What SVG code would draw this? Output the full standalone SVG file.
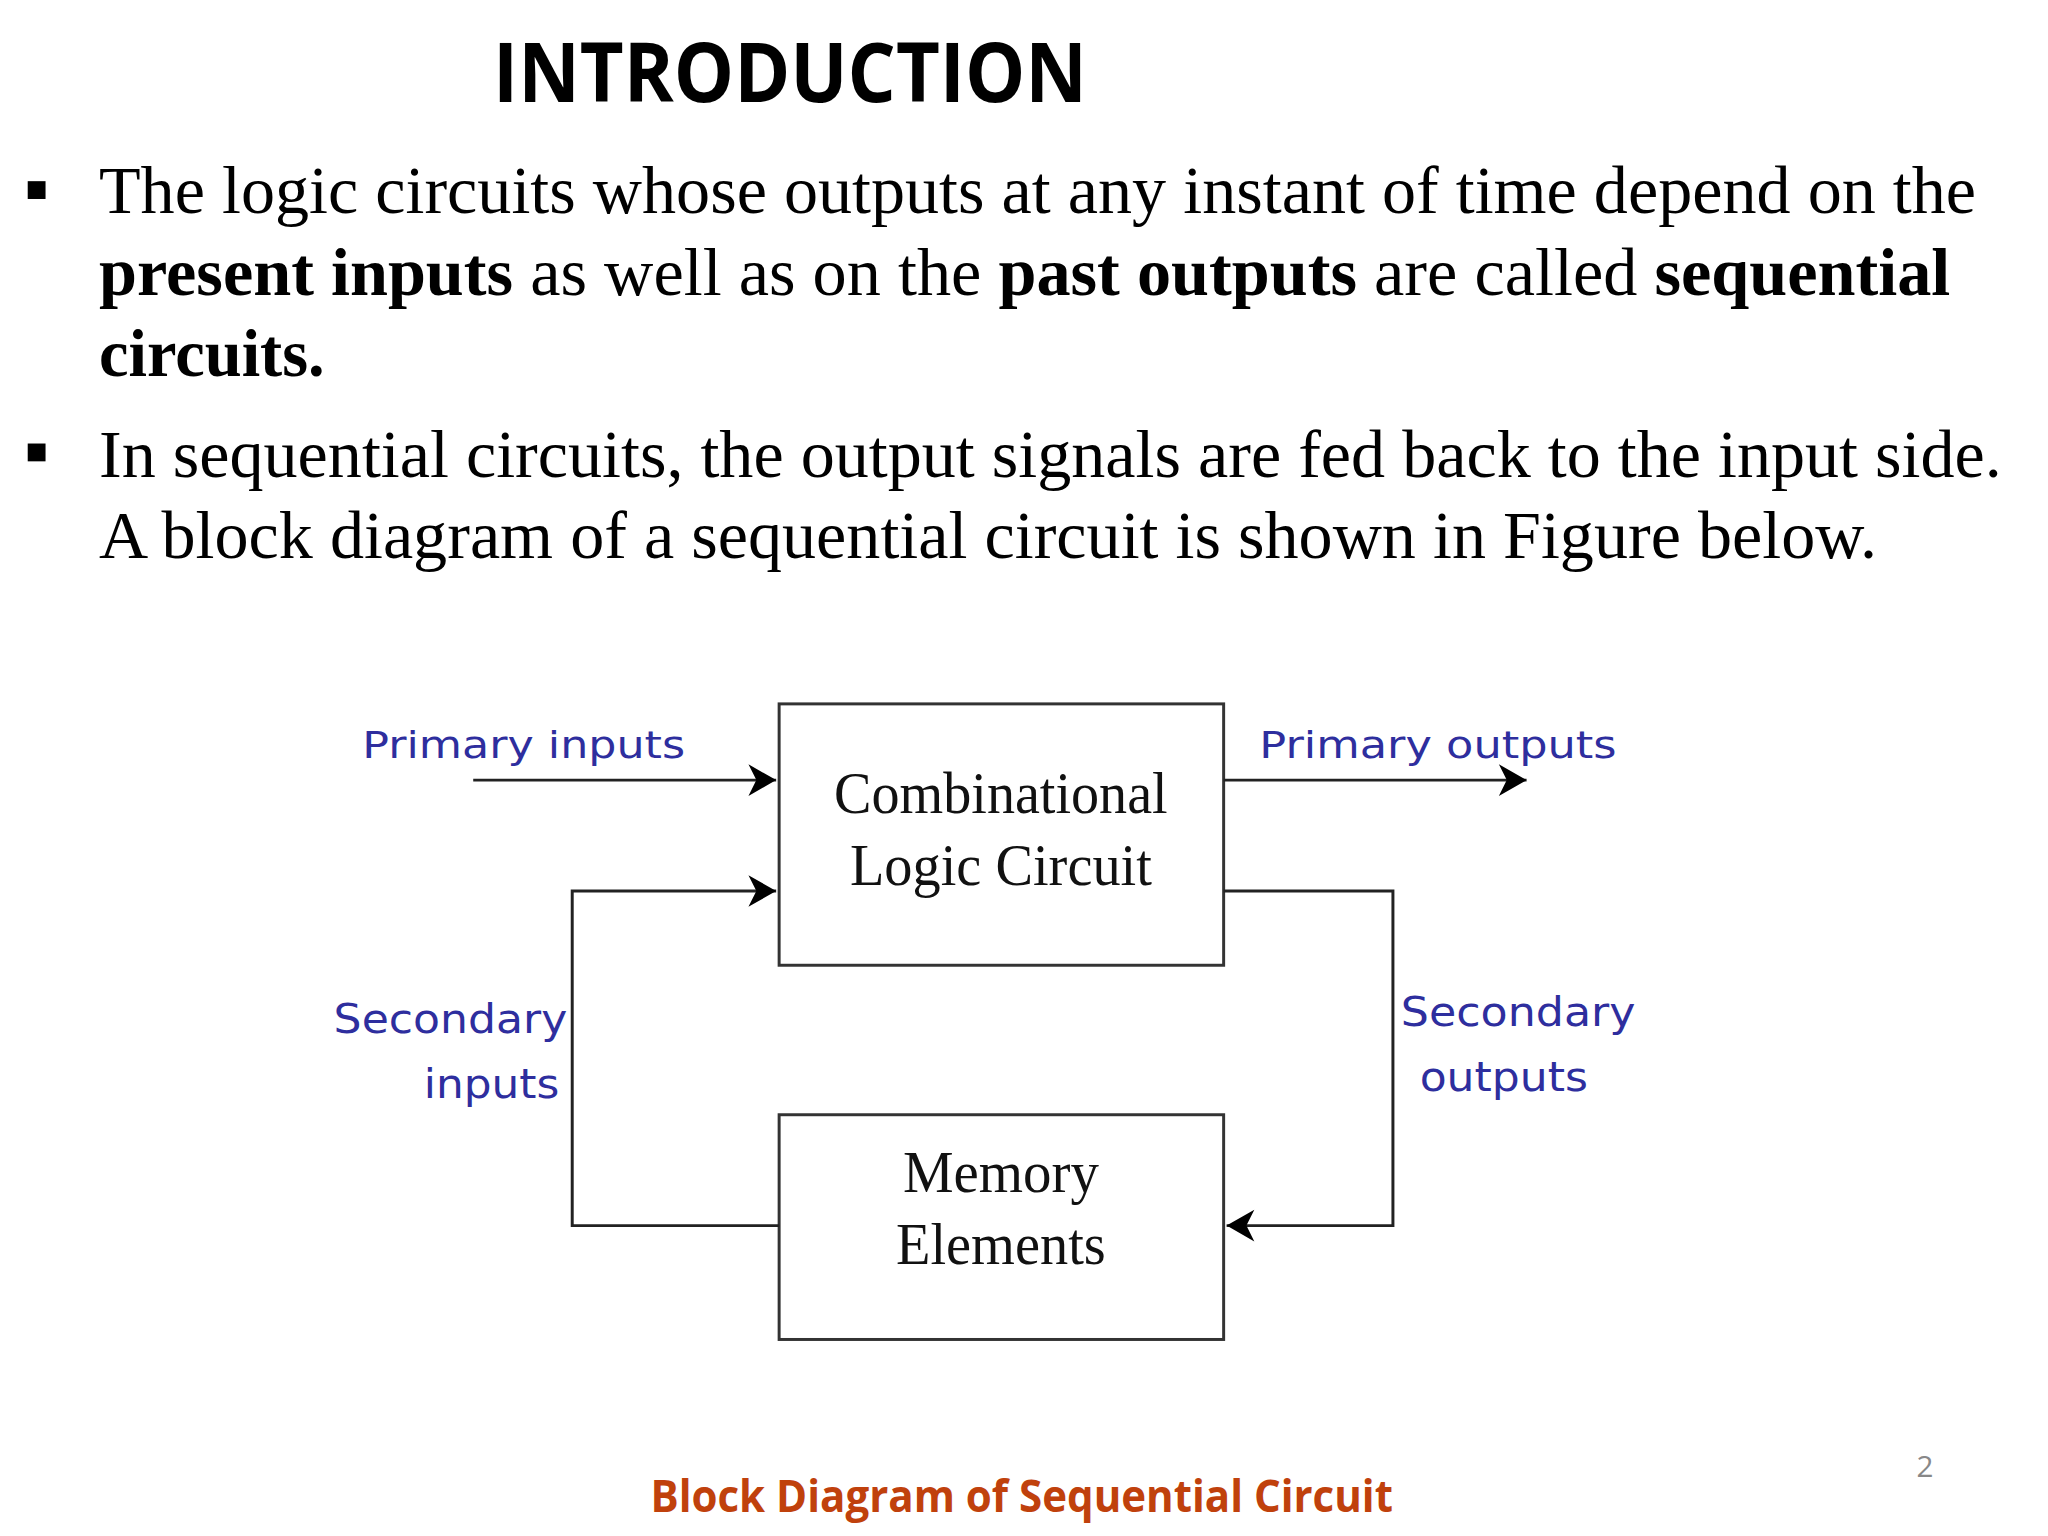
<svg xmlns="http://www.w3.org/2000/svg" width="2048" height="1536" viewBox="0 0 2048 1536">
<style>
.t{font-family:"Liberation Serif",serif;font-size:68px;fill:#000}
.b{font-weight:bold}
.lbl{font-family:"DejaVu Sans",sans-serif;font-size:38px;fill:#2e2e9e}
.lb2{font-size:41px}
.box{fill:#fff;stroke:#333;stroke-width:3}
.bt{font-family:"Liberation Serif",serif;font-size:60px;fill:#111;text-anchor:middle}
.w{fill:none;stroke:#222;stroke-width:3}
</style>
<defs>
<marker id="ah" markerWidth="40" markerHeight="40" refX="36" refY="20" orient="auto" markerUnits="userSpaceOnUse"><path d="M8,4 L36,20 L8,36 L16,20 Z" fill="#000"/></marker></defs>
<rect width="2048" height="1536" fill="#fff"/>
<g transform="scale(0.99)">
<text x="498" y="103" font-family="Open Sans,sans-serif" font-weight="bold" font-size="84" textLength="600" lengthAdjust="spacingAndGlyphs">INTRODUCTION</text>
<rect x="28" y="183" width="18" height="18"/>
<rect x="28" y="448" width="18" height="18"/>
<text class="t" x="100" y="215" textLength="1896" lengthAdjust="spacingAndGlyphs">The logic circuits whose outputs at any instant of time depend on the</text>
<text class="t" x="100" y="298" textLength="1870" lengthAdjust="spacingAndGlyphs"><tspan class="b">present inputs</tspan> as well as on the <tspan class="b">past outputs</tspan> are called <tspan class="b">sequential</tspan></text>
<text class="t b" x="100" y="380" textLength="228" lengthAdjust="spacingAndGlyphs">circuits.</text>
<text class="t" x="100" y="482" textLength="1922" lengthAdjust="spacingAndGlyphs">In sequential circuits, the output signals are fed back to the input side.</text>
<text class="t" x="100" y="564" textLength="1796" lengthAdjust="spacingAndGlyphs">A block diagram of a sequential circuit is shown in Figure below.</text>
<g id="comb"><rect class="box" x="787" y="711" width="449" height="264"/>
<text class="bt" x="1011" y="821" textLength="337" lengthAdjust="spacingAndGlyphs">Combinational</text>
<text class="bt" x="1011" y="894" textLength="305" lengthAdjust="spacingAndGlyphs">Logic Circuit</text></g>
<g id="mem"><rect class="box" x="787" y="1126" width="449" height="227"/>
<text class="bt" x="1011" y="1204" textLength="198" lengthAdjust="spacingAndGlyphs">Memory</text>
<text class="bt" x="1011" y="1277" textLength="212" lengthAdjust="spacingAndGlyphs">Elements</text></g>
<g id="connectors">
<line class="w" x1="478" y1="788" x2="784" y2="788" marker-end="url(#ah)"/>
<line class="w" x1="1236" y1="788" x2="1542" y2="788" marker-end="url(#ah)"/>
<polyline class="w" points="787,1238 578,1238 578,900 784,900" marker-end="url(#ah)"/>
<polyline class="w" points="1236,900 1407,900 1407,1238 1239,1238" marker-end="url(#ah)"/>
</g>
<text class="lbl" x="366" y="766" textLength="326" lengthAdjust="spacingAndGlyphs">Primary inputs</text>
<text class="lbl" x="1272" y="766" textLength="361" lengthAdjust="spacingAndGlyphs">Primary outputs</text>
<text class="lbl lb2" x="573" y="1043" text-anchor="end" textLength="236" lengthAdjust="spacingAndGlyphs">Secondary</text>
<text class="lbl lb2" x="565" y="1109" text-anchor="end" textLength="137" lengthAdjust="spacingAndGlyphs">inputs</text>
<text class="lbl lb2" x="1415" y="1036" textLength="237" lengthAdjust="spacingAndGlyphs">Secondary</text>
<text class="lbl lb2" x="1434" y="1102" textLength="170" lengthAdjust="spacingAndGlyphs">outputs</text>
<text x="657" y="1527" font-family="Open Sans,sans-serif" font-weight="bold" font-size="46" fill="#c0410c" textLength="750" lengthAdjust="spacingAndGlyphs">Block Diagram of Sequential Circuit</text>
<text x="1936" y="1492" font-family="Open Sans,sans-serif" font-size="30" fill="#888">2</text>
</g>
</svg>
